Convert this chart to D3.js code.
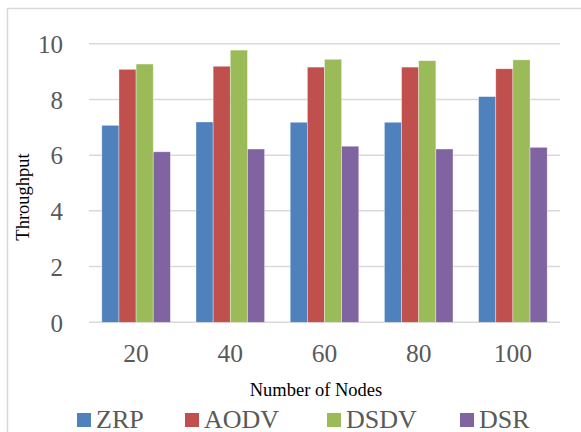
<!DOCTYPE html>
<html><head><meta charset="utf-8">
<script src="https://cdn.jsdelivr.net/npm/d3@7/dist/d3.min.js"></script>
<style>html,body{margin:0;padding:0;background:#fff;}svg{display:block;} text{font-family:'Liberation Serif','Times New Roman',serif;}</style>
</head><body>
<script>
const categories = ["20", "40", "60", "80", "100"];
const seriesNames = ["ZRP", "AODV", "DSDV", "DSR"];
const seriesColors = ["#4F81BD", "#C0504D", "#9BBB59", "#8064A2"];
const ZRP  = [7.07, 7.19, 7.18, 7.18, 8.10];
const AODV = [9.08, 9.19, 9.16, 9.16, 9.10];
const DSDV = [9.27, 9.77, 9.44, 9.39, 9.42];
const DSR  = [6.12, 6.22, 6.32, 6.22, 6.28];
const yTicks = [0, 2, 4, 6, 8, 10];
const seriesValues = [ZRP, AODV, DSDV, DSR];

const W = 581, H = 432;
const svg = d3.select("body").append("svg").attr("width", W).attr("height", H);
const serif = "'Liberation Serif','Times New Roman',serif";

// outer border
svg.append("rect").attr("x", 7.5).attr("y", 8.5).attr("width", 590).attr("height", 440)
  .attr("fill", "none").attr("stroke", "#D9D9D9").attr("stroke-width", 1.5);

const plotL = 89, plotR = 560, plotT = 43.7, plotB = 322.3;
const y = d3.scaleLinear().domain([0, 10]).range([plotB, plotT]);
const x0 = d3.scaleBand().domain(categories).range([plotL, plotR]).paddingInner(0).paddingOuter(0);
const groupW = x0.bandwidth() * 0.728;
const x1 = d3.scaleBand().domain(seriesNames).range([-groupW / 2, groupW / 2]).padding(0);

// gridlines
svg.append("g").selectAll("line").data(yTicks).join("line")
  .attr("x1", plotL).attr("x2", plotR)
  .attr("y1", d => y(d)).attr("y2", d => y(d))
  .attr("stroke", "#D9D9D9").attr("stroke-width", 1.5);

// bars
const groups = svg.append("g").selectAll("g").data(categories).join("g")
  .attr("transform", c => `translate(${x0(c) + x0.bandwidth() / 2},0)`);
groups.selectAll("rect").data((c, i) => seriesNames.map((s, j) => ({ s, j, v: seriesValues[j][i] })))
  .join("rect")
  .attr("x", d => x1(d.s))
  .attr("width", x1.bandwidth())
  .attr("y", d => y(d.v))
  .attr("height", d => y(0) - y(d.v))
  .attr("fill", d => seriesColors[d.j])
  .attr("stroke", "rgba(255,255,255,0.5)").attr("stroke-width", 0.7);

// y axis labels
const yAxis = d3.axisLeft(y).tickValues(yTicks).tickSize(0).tickPadding(0).tickFormat(d3.format("d"));
const gy = svg.append("g").attr("transform", `translate(63,0)`).call(yAxis);
gy.select(".domain").remove();
gy.attr("font-family", null);
gy.selectAll("text").style("font-family", serif).style("font-size", "25px").attr("fill", "#595959")
  .attr("dy", "0.35em");

// x axis labels
const xAxis = d3.axisBottom(x0).tickSize(0).tickPadding(0);
const gx = svg.append("g").attr("transform", `translate(0,${plotB})`).call(xAxis);
gx.select(".domain").remove();
gx.attr("font-family", null);
gx.selectAll("text").style("font-family", serif).style("font-size", "25.5px").attr("fill", "#595959")
  .attr("y", 40).attr("dy", 0);

// axis titles
svg.append("text").attr("x", 316).attr("y", 396).attr("text-anchor", "middle")
  .style("font-family", serif).style("font-size", "18.5px").attr("fill", "#000").text("Number of Nodes");
svg.append("text").attr("transform", "translate(29,197) rotate(-90)").attr("text-anchor", "middle")
  .style("font-family", serif).style("font-size", "18.5px").attr("fill", "#000").text("Throughput");

// legend
const legendX = [77, 185, 327, 460];
const lg = svg.append("g").selectAll("g").data(seriesNames).join("g")
  .attr("transform", (d, i) => `translate(${legendX[i]},0)`);
lg.append("rect").attr("x", 0).attr("y", 413).attr("width", 14).attr("height", 14)
  .attr("fill", (d, i) => seriesColors[i]);
lg.append("text").attr("x", 19).attr("y", 427.5).style("font-family", serif).style("font-size", "26px")
  .attr("fill", "#595959").text(d => d);
</script>
</body></html>
